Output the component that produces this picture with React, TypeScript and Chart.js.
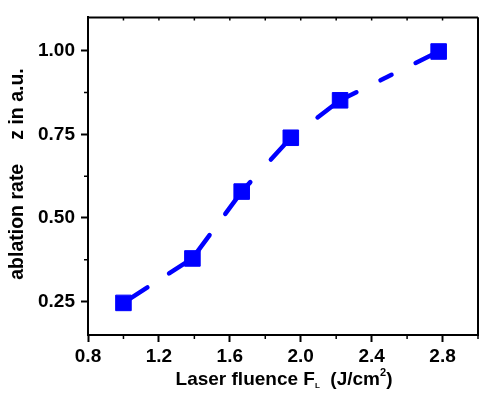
import React, { useEffect, useRef } from "react";
import { Chart, registerables } from "chart.js";

Chart.register(...registerables);

// ---- data ----
const fluence = [1.0, 1.389, 1.667, 1.944, 2.222, 2.778];
const ablationRate = [0.246, 0.379, 0.579, 0.74, 0.852, 0.998];

const xTickValues = [0.8, 1.2, 1.6, 2.0, 2.4, 2.8];
const xTickLabels = ["0.8", "1.2", "1.6", "2.0", "2.4", "2.8"];
const xMinorValues = [1.0, 1.4, 1.8, 2.2, 2.6, 3.0];
const yTickValues = [0.25, 0.5, 0.75, 1.0];
const yTickLabels = ["0.25", "0.50", "0.75", "1.00"];
const yMinorValues = [0.375, 0.625, 0.875];

const yTitleA = "ablation rate";
const yTitleB = "z in a.u.";
const xTitleMain = "Laser fluence F";
const xTitleSub = "L";
const xTitleUnit = "  (J/cm";
const xTitleSup = "2";
const xTitleEnd = ")";

// ---- styles ----
const BLUE = "#0000ff";
const FONT = "'Liberation Sans', Arial, Helvetica, sans-serif";
const segmentDashes = [
  [28.5, 25.8, 300],
  [28.9, 26.5, 300],
  [12.8, 30.5, 300],
  [0, 33.6, 300],
  [18.2, 26.9, 12.3, 26.9, 300],
];

const framePlugin = {
  id: "frame",
  afterDraw(chart: any) {
    const { ctx, chartArea } = chart;
    const { left, right, top, bottom } = chartArea;
    const xs = chart.scales.x;
    const ys = chart.scales.y;
    ctx.save();
    ctx.strokeStyle = "#000";
    ctx.lineWidth = 2;
    ctx.beginPath();
    ctx.moveTo(left - 1, top);
    ctx.lineTo(right, top);
    ctx.moveTo(right, top);
    ctx.lineTo(right, bottom);
    ctx.stroke();
    // minor ticks
    ctx.lineWidth = 1.5;
    ctx.beginPath();
    for (const v of xMinorValues) {
      const px = xs.getPixelForValue(v);
      ctx.moveTo(px, bottom);
      ctx.lineTo(px, bottom + 4);
    }
    for (const v of [...xMinorValues, ...xTickValues]) {
      const px = xs.getPixelForValue(v);
      ctx.moveTo(px, top);
      ctx.lineTo(px, top + 3);
    }
    for (const v of yMinorValues) {
      const py = ys.getPixelForValue(v);
      ctx.moveTo(left, py);
      ctx.lineTo(left - 4, py);
    }
    ctx.stroke();

    // titles
    ctx.fillStyle = "#000";
    ctx.textBaseline = "middle";
    // y title (two parts with a wide gap)
    ctx.save();
    ctx.translate(18, 174);
    ctx.rotate(-Math.PI / 2);
    ctx.font = `bold 19.5px ${FONT}`;
    const gap = 24;
    const wa = ctx.measureText(yTitleA).width;
    const wb = ctx.measureText(yTitleB).width;
    const tot = wa + gap + wb;
    ctx.textAlign = "left";
    ctx.fillText(yTitleA, -tot / 2, 0);
    ctx.fillText(yTitleB, -tot / 2 + wa + gap, 0);
    ctx.restore();

    // x title
    const big = `bold 19px ${FONT}`;
    const small = `bold 11px ${FONT}`;
    const sub = `bold 8px ${FONT}`;
    ctx.textAlign = "left";
    ctx.textBaseline = "alphabetic";
    ctx.font = big;
    const w1 = ctx.measureText(xTitleMain).width;
    const w3 = ctx.measureText(xTitleUnit).width;
    const w5 = ctx.measureText(xTitleEnd).width;
    ctx.font = sub;
    const w2 = ctx.measureText(xTitleSub).width;
    ctx.font = small;
    const w4 = ctx.measureText(xTitleSup).width;
    const total = w1 + w2 + w3 + w4 + w5;
    let x = 284 - total / 2;
    const base = 385;
    ctx.font = big;
    ctx.fillText(xTitleMain, x, base);
    x += w1;
    ctx.font = sub;
    ctx.fillText(xTitleSub, x, base + 3);
    x += w2;
    ctx.font = big;
    ctx.fillText(xTitleUnit, x, base);
    x += w3;
    ctx.font = small;
    ctx.fillText(xTitleSup, x, base - 9);
    x += w4;
    ctx.font = big;
    ctx.fillText(xTitleEnd, x, base);
    ctx.restore();
  },
};

export default function App() {
  const ref = useRef<HTMLCanvasElement | null>(null);
  useEffect(() => {
    if (!ref.current) return;
    const chart = new Chart(ref.current, {
      type: "line",
      data: {
        datasets: [
          {
            data: fluence.map((x, i) => ({ x, y: ablationRate[i] })),
            borderColor: BLUE,
            backgroundColor: BLUE,
            borderWidth: 4.5,
            borderCapStyle: "round",
            pointStyle: "rect",
            pointRadius: 11,
            pointBorderWidth: 1,
            pointBorderColor: BLUE,
            pointBackgroundColor: BLUE,
            segment: {
              borderDash: (c: any) => segmentDashes[c.p0DataIndex],
            },
          } as any,
        ],
      },
      options: {
        responsive: false,
        animation: false,
        devicePixelRatio: 1,
        layout: { padding: { top: 14, right: 9, left: 0, bottom: 0 } },
        plugins: { legend: { display: false }, tooltip: { enabled: false } },
        scales: {
          x: {
            type: "linear",
            min: 0.8,
            max: 3.0,
            afterBuildTicks: (s: any) => {
              s.ticks = xTickValues.map((v) => ({ value: v }));
            },
            afterFit: (s: any) => {
              s.height = 68;
            },
            ticks: {
              callback: (v: any, i: number) => xTickLabels[i],
              color: "#000",
              font: { family: FONT, size: 19, weight: "bold" },
              padding: 3,
              maxRotation: 0,
              autoSkip: false,
            },
            grid: {
              display: true,
              drawOnChartArea: false,
              drawTicks: true,
              tickLength: 7,
              tickWidth: 2,
              tickColor: "#000",
              color: "#000",
            },
            border: { display: true, color: "#000", width: 2 },
          },
          y: {
            type: "linear",
            min: 0.15,
            max: 1.1,
            afterBuildTicks: (s: any) => {
              s.ticks = yTickValues.map((v) => ({ value: v }));
            },
            afterFit: (s: any) => {
              s.width = 88;
            },
            ticks: {
              callback: (v: any, i: number) => yTickLabels[i],
              color: "#000",
              font: { family: FONT, size: 19, weight: "bold" },
              padding: 6,
              autoSkip: false,
            },
            grid: {
              display: true,
              drawOnChartArea: false,
              drawTicks: true,
              tickLength: 7,
              tickWidth: 2,
              tickColor: "#000",
              color: "#000",
            },
            border: { display: true, color: "#000", width: 2 },
          },
        },
      } as any,
      plugins: [framePlugin],
    });
    return () => chart.destroy();
  }, []);
  return (
    <div
      style={{
        position: "fixed",
        left: 0,
        top: 0,
        width: 479,
        height: 403,
        overflow: "hidden",
        background: "#fff",
      }}
    >
      <canvas ref={ref} width={490} height={403} style={{ width: 490, height: 403, display: "block" }} />
    </div>
  );
}
